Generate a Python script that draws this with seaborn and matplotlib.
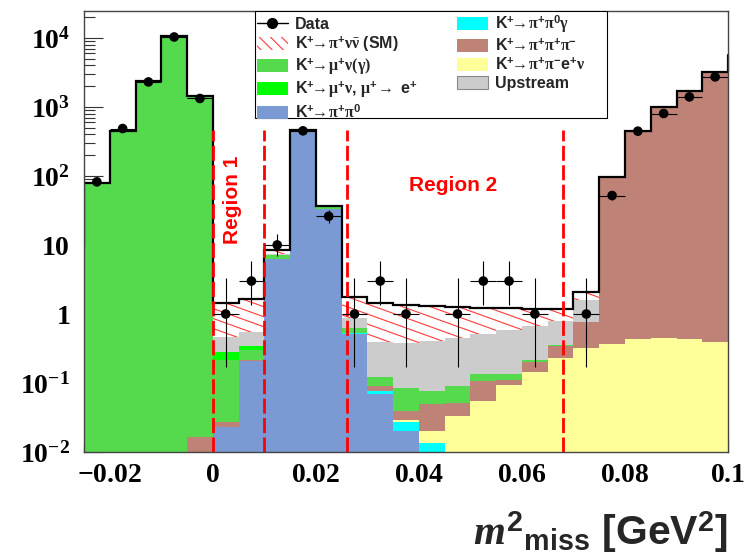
import numpy as np
import matplotlib
matplotlib.use("Agg")
import matplotlib.pyplot as plt
import seaborn as sns
from matplotlib.lines import Line2D
from matplotlib.patches import Patch, Rectangle
from matplotlib.collections import LineCollection
from matplotlib.ticker import FixedLocator, LogLocator, NullFormatter, MultipleLocator

# ---------------- data ----------------
bin_edges = np.linspace(-0.025, 0.1, 26)

k_pipi0 = [0, 0, 0, 0, 0, 0.023, 0.206, 6.3, 456, 33.6, 0.52, 0.0686, 0.0201, 0, 0,
           0, 0, 0, 0, 0, 0, 0, 0, 0, 0]
k_pipi0g = [0, 0, 0, 0, 0, 0, 0, 0, 0, 0, 0.01, 0.008, 0.0071, 0.0132, 0,
            0, 0, 0, 0, 0, 0, 0, 0, 0, 0]
k_pipienu = [0, 0, 0, 0, 0, 0, 0, 0, 0, 0, 0, 0, 0.0016, 0.0068, 0.0329,
             0.0548, 0.0927, 0.144, 0.233, 0.316, 0.37, 0.44, 0.455, 0.44, 0.39]
k_pipipi = [0, 0, 0, 0, 0.0165, 0.004, 0.012, 0, 0, 0, 0, 0.013, 0.0101, 0.030, 0.0184,
            0.0522, 0.0163, 0.057, 0.107, 0.454, 96.4, 446.6, 999.5, 1705.6, 3214.6]
k_munu = [78, 447, 2350, 10600, 1430, 0.191, 0.08, 0.8, 0.8, 1.6, 0.09, 0.0324, 0.0468, 0.027, 0.0383,
          0.027, 0.028, 0.017, 0.01, 0, 0, 0, 0, 0, 0]
k_munu_e = [0, 0, 0, 0, 0, 0.063, 0.042, 0.05, 0, 0, 0, 0, 0, 0, 0,
            0, 0, 0, 0, 0, 0, 0, 0, 0, 0]
upstream = [0, 0, 0, 0, 0, 0.184, 0.208, 0.15, 0.3, 0.3, 0.25, 0.271, 0.294, 0.328, 0.36,
            0.386, 0.443, 0.442, 0.44, 0.85, 0, 0, 0, 0, 0]
signal_sm = [0, 0, 0, 0, 0, 0.975, 1.12, 1.2, 1.3, 0.9, 0.89, 1.027, 0.96, 0.885, 0.81,
             0.71, 0.65, 0.53, 0.40, 0.46, 0, 0, 0, 0, 0]
underflow_total = 9.6
overflow_total = 5600

data_counts = [82, 486, 2300, 10300, 1324, 1, 3, 10, 450, 26, 1, 3, 1, 0, 1,
               3, 3, 1, 0, 1, 52, 445, 802, 1396, 2720]
poisson_lo = {1: 0.827, 3: 1.633, 10: 3.109, 26: 5.08, 52: 7.2}
poisson_hi = {1: 2.300, 3: 2.918, 10: 4.267, 26: 6.14, 52: 8.25}

region_cuts = [0.0, 0.01, 0.026, 0.068]
region_line_top = 460
region_labels = [("Region 1", 0.0039, 44.5, 90), ("Region 2", 0.0466, 72, 0)]

x_ticks = [-0.02, 0, 0.02, 0.04, 0.06, 0.08, 0.1]
x_tick_labels = [r"$\mathrm{-0.02}$", r"$\mathrm{0}$", r"$\mathrm{0.02}$", r"$\mathrm{0.04}$",
                 r"$\mathrm{0.06}$", r"$\mathrm{0.08}$", r"$\mathrm{0.1}$"]
y_ticks = [1e-2, 1e-1, 1, 10, 1e2, 1e3, 1e4]
y_tick_labels = [r"$\mathrm{10^{-2}}$", r"$\mathrm{10^{-1}}$", r"$\mathrm{1}$", r"$\mathrm{10}$",
                 r"$\mathrm{10^{2}}$", r"$\mathrm{10^{3}}$", r"$\mathrm{10^{4}}$"]

KP = r"K$^{\mathsf{+}}\!\!\rightarrow\!$"
lab_data = "Data"
lab_sm = KP + r"$\mathrm{\pi}^{\mathsf{+}}\mathrm{\nu\bar{\nu}}$ (SM)"
lab_munu = KP + r"$\mathrm{\mu}^{\mathsf{+}}\mathrm{\nu(\gamma)}$"
lab_munue = KP + r"$\mathrm{\mu}^{\mathsf{+}}\mathrm{\nu}$, $\mathrm{\mu}^{\mathsf{+}}\!\rightarrow$ e$^{\mathsf{+}}$"
lab_pipi0 = KP + r"$\mathrm{\pi}^{\mathsf{+}}\mathrm{\pi}^{\mathsf{0}}$"
lab_pipi0g = KP + r"$\mathrm{\pi}^{\mathsf{+}}\mathrm{\pi}^{\mathsf{0}}\mathrm{\gamma}$"
lab_pipipi = KP + r"$\mathrm{\pi}^{\mathsf{+}}\mathrm{\pi}^{\mathsf{+}}\mathrm{\pi}^{\mathsf{-}}$"
lab_pipienu = KP + r"$\mathrm{\pi}^{\mathsf{+}}\mathrm{\pi}^{\mathsf{-}}$e$^{\mathsf{+}}\mathrm{\nu}$"
lab_up = "Upstream"

# ---------------- style ----------------
sns.set_theme(style="ticks")
plt.rcParams["font.family"] = ["Liberation Sans", "DejaVu Sans"]
plt.rcParams["font.weight"] = "bold"
plt.rcParams["mathtext.fontset"] = "custom"
plt.rcParams["mathtext.rm"] = "Liberation Serif:bold"
plt.rcParams["mathtext.bf"] = "Liberation Serif:bold"
plt.rcParams["mathtext.it"] = "Liberation Serif:italic:bold"
plt.rcParams["mathtext.sf"] = "Liberation Sans:bold"
plt.rcParams["hatch.linewidth"] = 0.8

c_pipi0 = "#7b99d3"
c_pipi0g = "#00ffff"
c_pipienu = "#ffff99"
c_pipipi = "#bf8276"
c_munu = "#55d94d"
c_munue = "#00ff00"
c_up = "#cccccc"

fig, ax = plt.subplots(figsize=(7.5, 5.56), dpi=100)
fig.subplots_adjust(left=0.112, right=0.9707, bottom=0.187, top=0.980)
ax.set_yscale("log")
ax.set_xlim(-0.025, 0.1)
ax.set_ylim(0.01, 24400)

components = [(k_pipi0, c_pipi0), (k_pipi0g, c_pipi0g), (k_pipienu, c_pipienu),
              (k_pipipi, c_pipipi), (k_munu, c_munu), (k_munu_e, c_munue), (upstream, c_up)]
bottom = np.full(len(data_counts), 1e-4)
for vals, col in components:
    top = bottom + np.asarray(vals, dtype=float)
    ax.stairs(top, bin_edges, baseline=bottom, fill=True, color=col, lw=0, zorder=1)
    bottom = top
top = bottom + np.asarray(signal_sm, dtype=float)
sig_patch = ax.stairs(top, bin_edges, baseline=bottom, fill=True, facecolor="white", lw=0, zorder=1.2)
total = top

# hatch lines (shallow angle) clipped to the SM signal band
W = 0.8587 * 750
H = 0.793 * 556
slope = 0.36 * W / H
step = 10.0 / H
segs = [[(0, c), (1, c - slope)] for c in np.arange(0, 1 + slope + step, step)]
lc = LineCollection(segs, colors="#ff3b3b", linewidths=0.8, transform=ax.transAxes, zorder=1.5)
ax.add_collection(lc)
lc.set_clip_path(sig_patch)

# total outline
ax.stairs(total, bin_edges, baseline=None, color="black", lw=1.6, zorder=3)
ax.plot([bin_edges[0], bin_edges[0]], [underflow_total, total[0]], color="black", lw=1.6, zorder=3)
ax.plot([bin_edges[-1], bin_edges[-1]], [total[-1], overflow_total], color="black", lw=1.6, zorder=3,
        clip_on=False)

# region cuts
ax.vlines(region_cuts, 0.01, region_line_top, colors="#ff0000", linestyles=(0, (5.4, 1.6)),
          lw=2.0, zorder=4)
for txt, xx, yy, rot in region_labels:
    ax.text(xx, yy, txt, rotation=rot, color="#ff0000", fontsize=15, fontweight="bold",
            ha="center", va="center", zorder=4)

# data
centers = 0.5 * (bin_edges[:-1] + bin_edges[1:])
counts = np.asarray(data_counts, dtype=float)
mask = counts > 0
xc = centers[mask]
yc = counts[mask]
lo = np.array([poisson_lo.get(int(n), np.sqrt(n)) for n in yc])
hi = np.array([poisson_hi.get(int(n), np.sqrt(n)) for n in yc])
ax.errorbar(xc, yc, xerr=0.0025, yerr=[lo, hi], fmt="none", ecolor="black", elinewidth=0.8,
            capsize=0, zorder=5)
sns.scatterplot(x=xc, y=yc, color="black", s=48, edgecolor="none", zorder=6, ax=ax, legend=False)

# axes / ticks
ax.xaxis.set_major_locator(FixedLocator(x_ticks))
ax.xaxis.set_minor_locator(MultipleLocator(0.005))
ax.set_xticklabels(x_tick_labels)
ax.yaxis.set_major_locator(FixedLocator(y_ticks))
ax.yaxis.set_minor_locator(LogLocator(base=10, subs=np.arange(2, 10), numticks=20))
ax.yaxis.set_minor_formatter(NullFormatter())
ax.set_yticklabels(y_tick_labels)
ax.tick_params(axis="both", which="both", direction="in", top=False, right=False, colors="#333333",
               labelcolor="black", labelsize=20)
ax.tick_params(axis="x", which="major", length=9.5, width=0.8, pad=7)
ax.tick_params(axis="x", which="minor", length=5.8, width=0.8)
ax.tick_params(axis="y", which="major", length=14, width=0.8, pad=10)
ax.tick_params(axis="y", which="minor", length=8, width=0.8)
for sp in ax.spines.values():
    sp.set_color("#444444")
    sp.set_linewidth(1.0)
    sp.set_zorder(7)

ax.set_xlabel(r"$\mathit{m}^{\mathsf{2}}{}_{\mathsf{miss}}$ [GeV$^{\mathsf{2}}$]", fontsize=29.5,
              fontweight="bold", ha="right", va="baseline")
ax.xaxis.set_label_coords(1.0, -0.211)

# legend (frame drawn as a separate box, ROOT-style)
legend_box = Rectangle((0.2655, 0.757), 0.5466, 0.243, transform=ax.transAxes, facecolor="white",
                       edgecolor="black", lw=0.8, zorder=9)
ax.add_patch(legend_box)
h_data = Line2D([], [], color="black", marker="o", markersize=7, lw=1.0)
h_sm = Patch(facecolor="white", edgecolor="#ff3b3b", hatch="\\\\\\", lw=0)
handles = [h_data, h_sm, Patch(color=c_munu, lw=0), Patch(color=c_munue, lw=0), Patch(color=c_pipi0, lw=0),
           Patch(color=c_pipi0g, lw=0), Patch(color=c_pipipi, lw=0), Patch(color=c_pipienu, lw=0),
           Patch(facecolor=c_up, edgecolor="#888888", lw=0.8)]
labels = [lab_data, lab_sm, lab_munu, lab_munue, lab_pipi0, lab_pipi0g, lab_pipipi, lab_pipienu, lab_up]
leg = ax.legend(handles, labels, ncol=2, loc="upper left", bbox_to_anchor=(0.2655, 1.0),
                borderaxespad=0, frameon=False, prop={"size": 11.5, "weight": "bold"},
                handlelength=1.95, handleheight=0.9, handletextpad=0.45, labelspacing=0.16,
                columnspacing=2.5, borderpad=0.1)
leg.set_zorder(10)

fig.savefig("out.png", dpi=100, facecolor="white")
